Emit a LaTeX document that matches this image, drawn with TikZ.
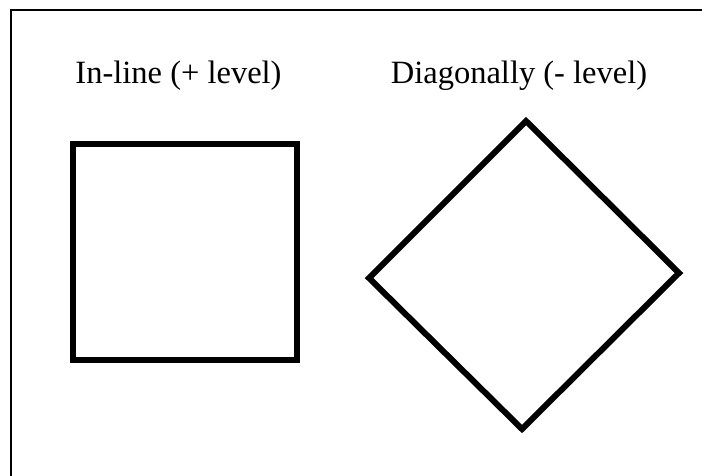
\documentclass[tikz,border=0pt]{standalone}
\usepackage{fontspec}
\setmainfont{Liberation Serif}
\begin{document}
\begin{tikzpicture}[x=1pt,y=-1pt,
  outline/.style={draw=black,line width=6pt,line join=miter},
  framestyle/.style={draw=black,line width=2.2pt},
  lbl/.style={anchor=base,inner sep=0pt,font=\fontsize{32.5}{38}\selectfont}]
\useasboundingbox (0,0) rectangle (702,475);
\fill[white] (0,0) rectangle (702,475);
% frame
\coordinate (fa) at (11,476);
\coordinate (fb) at (11,10);
\coordinate (fc) at (703,10);
\draw[framestyle] (fa) -- (fb) -- (fc);
% labels
\node[lbl] (t1) at (178.5,83) {In-line (+ level)};
\node[lbl] (t2) at (519,83) {Diagonally (- level)};
% square
\coordinate (s1) at (73,144);
\coordinate (s2) at (296.5,144);
\coordinate (s3) at (296.5,359.5);
\coordinate (s4) at (73,359.5);
\draw[outline] (s1) -- (s2) -- (s3) -- (s4) -- cycle;
% diamond
\coordinate (dT) at (526,121);
\coordinate (dR) at (679,273);
\coordinate (dB) at (522,429);
\coordinate (dL) at (369,278);
\draw[outline] (dT) -- (dR) -- (dB) -- (dL) -- cycle;
\end{tikzpicture}
\end{document}
